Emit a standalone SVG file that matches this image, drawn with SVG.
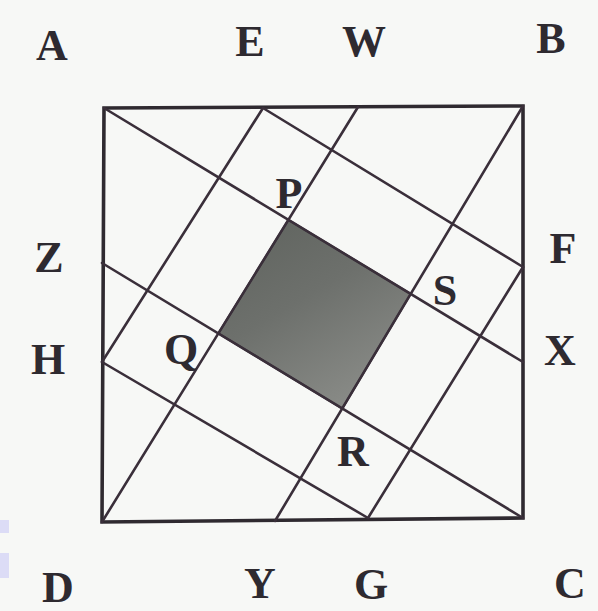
<svg xmlns="http://www.w3.org/2000/svg" width="598" height="611" viewBox="0 0 598 611">
<style>
.lbl{font-family:"Liberation Serif","Times New Roman",serif;font-weight:bold;font-size:44px;fill:#2e2a30;text-anchor:middle}
.ln{stroke:#3a2f3a;stroke-width:2.6;fill:none;stroke-linecap:round}
.sq{stroke:#2f2a30;stroke-width:3.6;fill:none;stroke-linejoin:miter}
</style>
<defs>
<linearGradient id="shade" x1="0" y1="0" x2="0.6" y2="1">
<stop offset="0" stop-color="#5e625d"/>
<stop offset="0.5" stop-color="#6d706c"/>
<stop offset="1" stop-color="#888a86"/>
</linearGradient>
</defs>
<rect width="598" height="611" fill="#f7f8f6"/>
<rect x="0" y="520" width="9" height="13" fill="#dcdcf6"/>
<rect x="0" y="553" width="9" height="25" fill="#dcdcf6"/>
<g id="shaded">
<polygon points="288.4,219.8 410.7,293.9 342.3,408.5 218.3,333.4" fill="url(#shade)" stroke="#3a2f3a" stroke-width="2"/>
</g>
<g id="square">
<polygon class="sq" points="104,108 523,106 523,518 102,522"/>
</g>
<g id="connectors">
<line class="ln" x1="104" y1="108" x2="523" y2="362"/>
<line class="ln" x1="263" y1="108" x2="523" y2="267"/>
<line class="ln" x1="102" y1="263" x2="523" y2="518"/>
<line class="ln" x1="102" y1="362" x2="368" y2="518"/>
<line class="ln" x1="102" y1="522" x2="358" y2="107"/>
<line class="ln" x1="102" y1="362" x2="263" y2="108"/>
<line class="ln" x1="275" y1="521" x2="523" y2="106"/>
<line class="ln" x1="368" y1="518" x2="523" y2="267"/>
</g>
<g id="labels">
<text class="lbl" x="52" y="60">A</text>
<text class="lbl" x="250" y="56">E</text>
<text class="lbl" x="364" y="56">W</text>
<text class="lbl" x="551" y="53">B</text>
<text class="lbl" x="49" y="272">Z</text>
<text class="lbl" x="48" y="374">H</text>
<text class="lbl" x="563" y="263">F</text>
<text class="lbl" x="560" y="365">X</text>
<text class="lbl" x="58" y="602">D</text>
<text class="lbl" x="260" y="598">Y</text>
<text class="lbl" x="371" y="599">G</text>
<text class="lbl" x="570" y="598">C</text>
<text class="lbl" x="289" y="208">P</text>
<text class="lbl" x="181" y="364">Q</text>
<text class="lbl" x="353" y="466">R</text>
<text class="lbl" x="445" y="305">S</text>
</g>
</svg>
